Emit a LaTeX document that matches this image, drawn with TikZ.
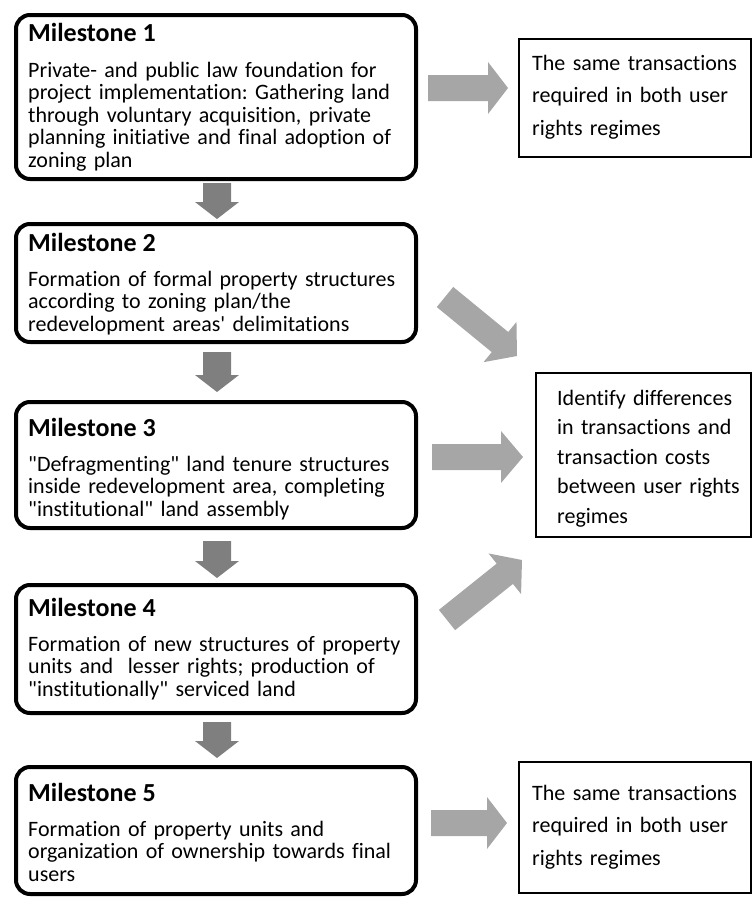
\documentclass[tikz,border=0pt]{standalone}
\usepackage{fontspec}
\setmainfont{Carlito}[Ligatures={NoCommon}]
\usetikzlibrary{calc}

\definecolor{downgray}{HTML}{7F7F7F}
\definecolor{sidegray}{HTML}{A6A6A6}

% Block arrow from tail #1 to tip #2: shaft half width #3, head half width #4,
% head length #5, fill style #6
\newcommand{\blockarrow}[6]{%
  \coordinate (ba-h) at ($(#2)!#5!(#1)$);
  \fill[#6] ($(#1)!#3!90:(#2)$) -- ($(ba-h)!#3!90:(#2)$) -- ($(ba-h)!#4!90:(#2)$)
    -- (#2) -- ($(ba-h)!#4!-90:(#2)$) -- ($(ba-h)!#3!-90:(#2)$)
    -- ($(#1)!#3!-90:(#2)$) -- cycle;
}
\newcommand{\dq}{\textquotedbl}

\begin{document}
\frenchspacing
\begin{tikzpicture}[x=1pt,y=-1pt,
  mbox/.style={draw=black, line width=4pt, rounded corners=14pt, minimum width=400pt,
    anchor=north west, inner sep=0pt, outer sep=0pt},
  rbox/.style={draw=black, line width=1.2pt, anchor=north west, inner sep=0pt, outer sep=0pt},
  ttl/.style={anchor=base west, inner sep=0pt, font=\fontsize{26}{30}\selectfont\bfseries},
  body/.style={anchor=base west, inner sep=0pt, text width=392pt, align=left,
    font=\fontsize{22}{22.5}\selectfont},
  rtext/.style={anchor=base west, inner sep=0pt, text width=215pt, align=left},
  downarrow/.style={fill=downgray},
  sidearrow/.style={fill=sidegray},
]
\useasboundingbox (0,0) rectangle (752,897);

% milestone boxes
\node[mbox, minimum height=164pt] (m1) at (16,15) {};
\node[mbox, minimum height=118pt] (m2) at (16,224) {};
\node[mbox, minimum height=126pt] (m3) at (16,402) {};
\node[mbox, minimum height=128pt] (m4) at (16,585) {};
\node[mbox, minimum height=127pt] (m5) at (16,767) {};

\node[ttl] (m1t) at (28,41.5) {Milestone 1};
\node[body] (m1b) at (28,77) {Private- and public law foundation for\\project implementation: Gathering land\\through voluntary acquisition, private\\planning initiative and final adoption of\\zoning plan};

\node[ttl] (m2t) at (28,251.5) {Milestone 2};
\node[body] (m2b) at (28,286) {Formation of formal property structures\\according to zoning plan/the\\redevelopment areas\textquotesingle\ delimitations};

\node[ttl] (m3t) at (28,436.5) {Milestone 3};
\node[body] (m3b) at (28,471) {\dq Defragmenting\dq\ land tenure structures\\inside redevelopment area, completing\\\dq institutional\dq\ land assembly};

\node[ttl] (m4t) at (28,616.5) {Milestone 4};
\node[body] (m4b) at (28,651) {Formation of new structures of property\\units and\ \ lesser rights; production of\\\dq institutionally\dq\ serviced land};

\node[ttl] (m5t) at (28,801.5) {Milestone 5};
\node[body] (m5b) at (28,836) {Formation of property units and\\organization of ownership towards final\\users};

% result boxes
\node[rbox, minimum width=232pt, minimum height=118pt] (r1) at (519,39) {};
\node[rtext, font=\fontsize{22}{32.5}\selectfont] (r1x) at (532,70) {The same transactions\\required in both user\\rights regimes};

\node[rbox, minimum width=215pt, minimum height=164pt] (r2) at (536,373) {};
\node[rtext, font=\fontsize{22}{29.5}\selectfont] (r2x) at (557,405) {Identify differences\\in transactions and\\transaction costs\\between user rights\\regimes};

\node[rbox, minimum width=232pt, minimum height=131pt] (r3) at (519,762) {};
\node[rtext, font=\fontsize{22}{32.5}\selectfont] (r3x) at (532,800) {The same transactions\\required in both user\\rights regimes};

% arrows between milestones
\coordinate (a1s) at (217,183); \coordinate (a1e) at (217,219);
\coordinate (a2s) at (217,352); \coordinate (a2e) at (217,392);
\coordinate (a3s) at (217,541); \coordinate (a3e) at (217,578);
\coordinate (a4s) at (217,722); \coordinate (a4e) at (217,758);
\blockarrow{a1s}{a1e}{14pt}{22pt}{17pt}{downarrow}
\blockarrow{a2s}{a2e}{14pt}{22pt}{17pt}{downarrow}
\blockarrow{a3s}{a3e}{14pt}{22pt}{17pt}{downarrow}
\blockarrow{a4s}{a4e}{14pt}{22pt}{17pt}{downarrow}

% arrows towards the result boxes
\coordinate (sAs) at (428,88);  \coordinate (sAe) at (508,88);
\coordinate (sBs) at (432,457); \coordinate (sBe) at (523,457);
\coordinate (sCs) at (431,823); \coordinate (sCe) at (507,823);
\coordinate (d1s) at (445,297); \coordinate (d1e) at (517,356);
\coordinate (d2s) at (447,620); \coordinate (d2e) at (522,560);
\blockarrow{sAs}{sAe}{13pt}{26pt}{20pt}{sidearrow}
\blockarrow{sBs}{sBe}{13pt}{26pt}{22pt}{sidearrow}
\blockarrow{sCs}{sCe}{13pt}{26pt}{20pt}{sidearrow}
\blockarrow{d1s}{d1e}{13pt}{26pt}{22pt}{sidearrow}
\blockarrow{d2s}{d2e}{13pt}{26pt}{22pt}{sidearrow}
\end{tikzpicture}
\end{document}
